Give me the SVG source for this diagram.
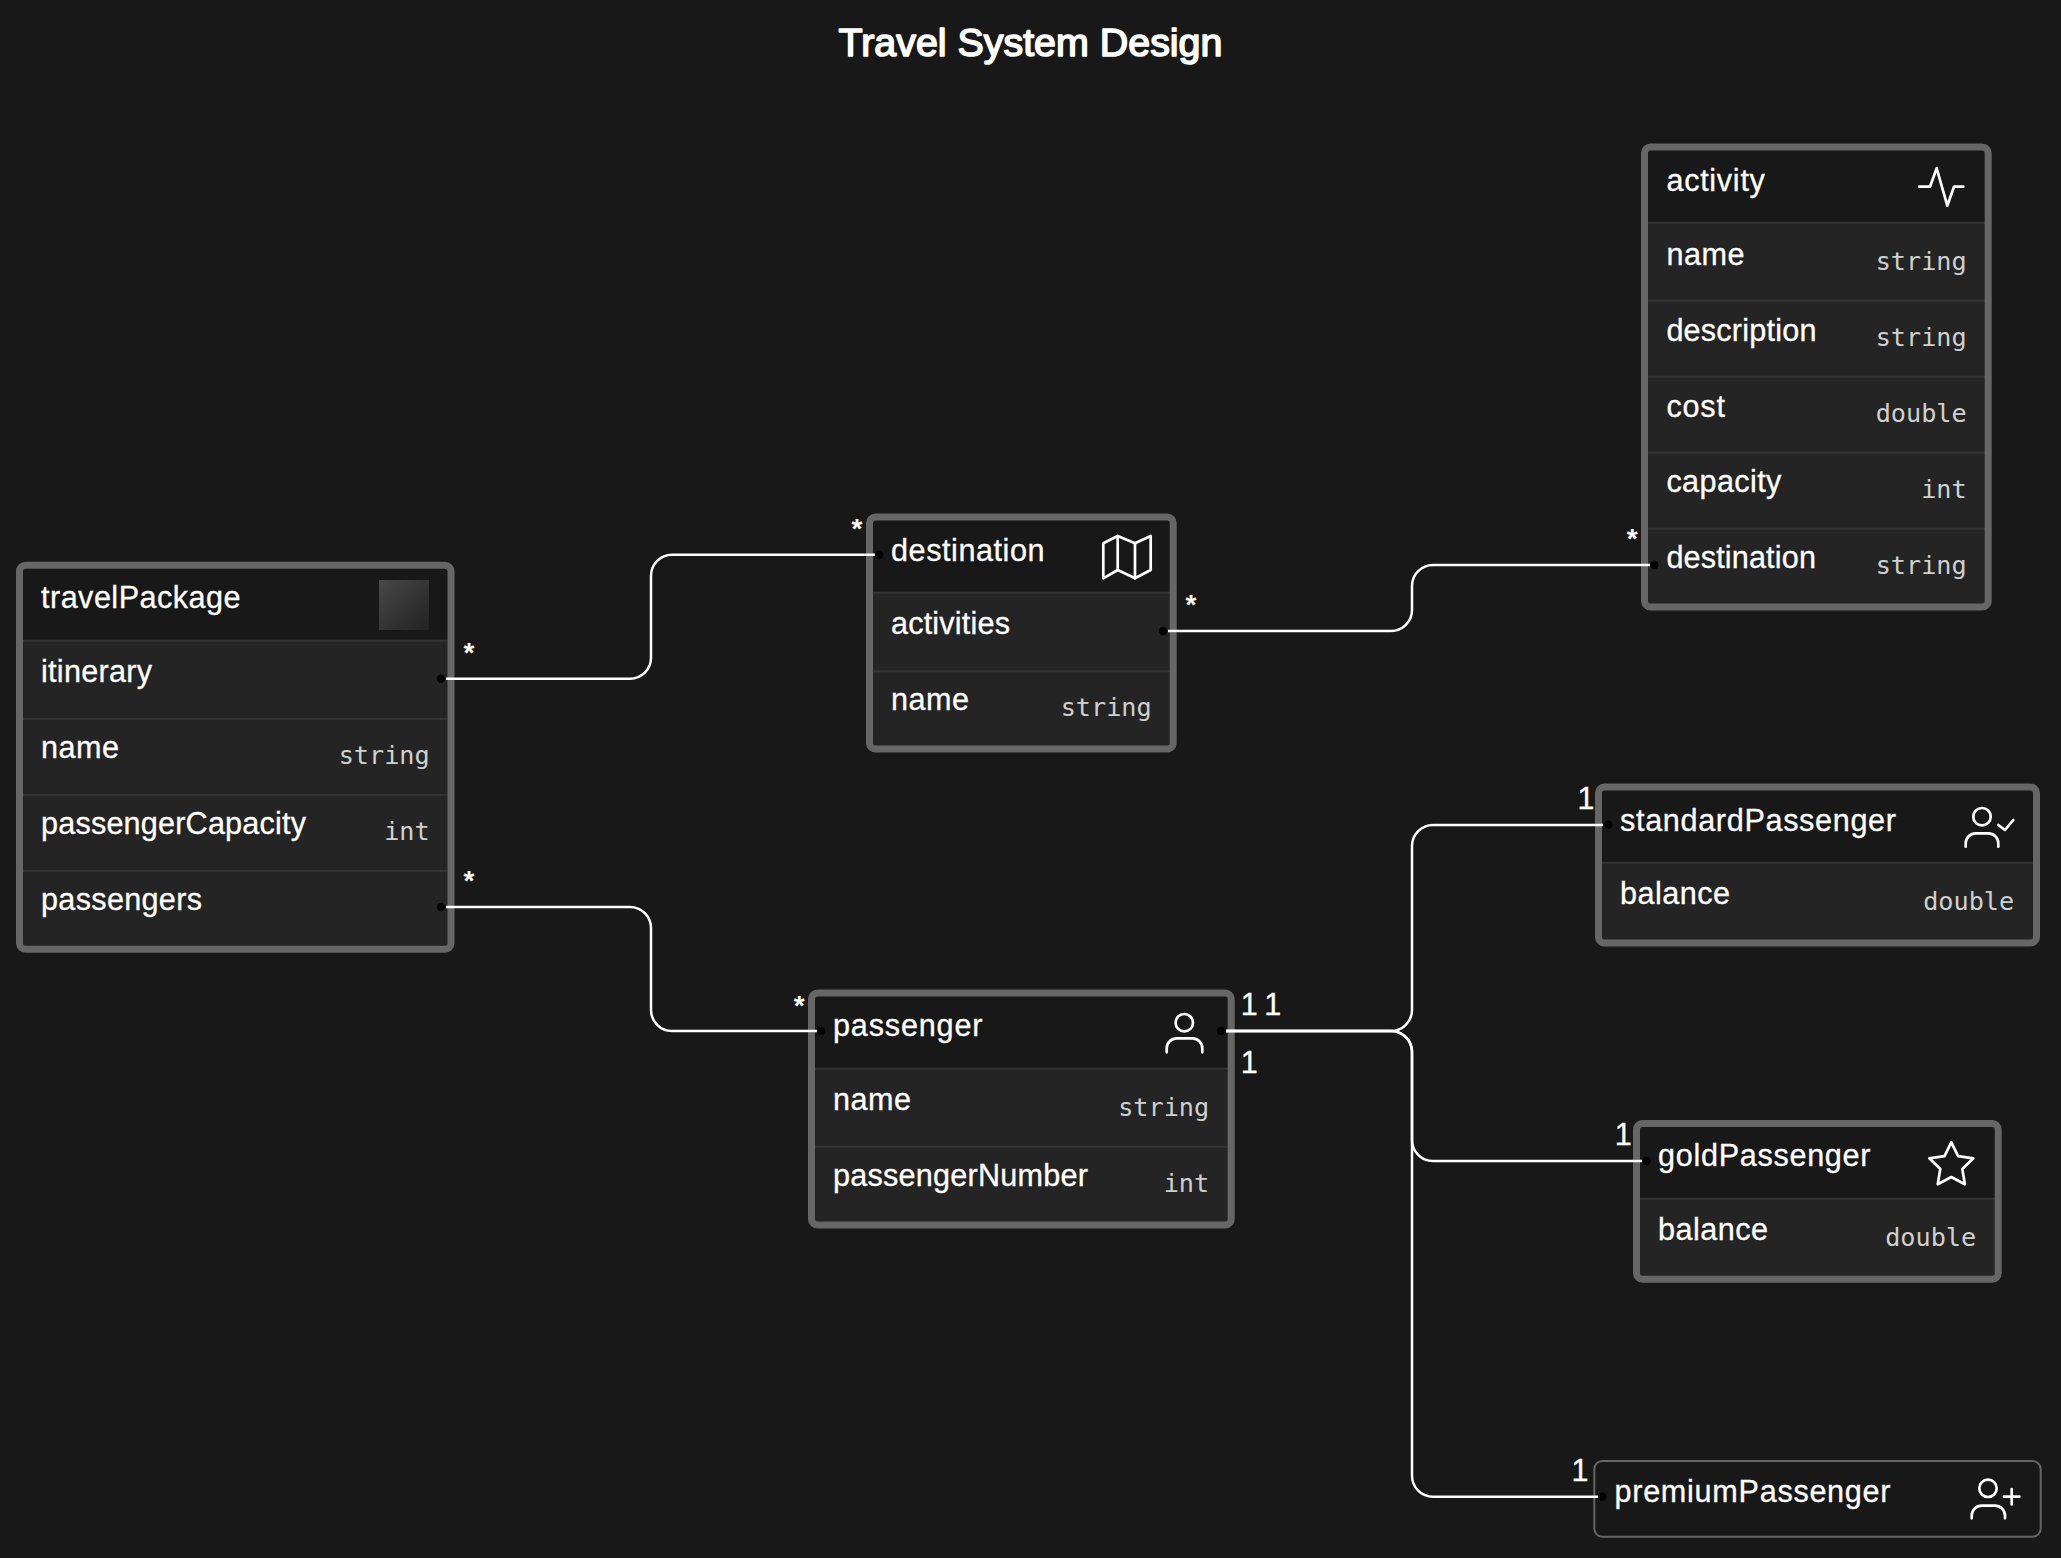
<svg xmlns="http://www.w3.org/2000/svg" width="2061" height="1558" viewBox="0 0 2061 1558">
<style>
.lb{font-family:"Liberation Sans",Arial,sans-serif;font-size:30.6px;fill:#fff;stroke:#fff;stroke-width:.3}
.ty{font-family:"DejaVu Sans Mono",monospace;font-size:25.2px;fill:#d0d0d0;text-anchor:end}
.ttl{font-family:"Liberation Sans",Arial,sans-serif;font-size:39.4px;fill:#fff;stroke:#fff;stroke-width:1.6;stroke-linejoin:round;text-anchor:middle}
.st{font-family:"Liberation Sans",Arial,sans-serif;font-size:28px;font-weight:700;fill:#fff;text-anchor:middle}
.bx{fill:none;stroke:#666;stroke-width:7}
.rw{fill:#242424}
.hd{fill:#181818}
.dv{stroke:#333;stroke-width:2}
.ic{fill:none;stroke:#fff;stroke-width:2.7;stroke-linecap:round;stroke-linejoin:round}
.cn{fill:none;stroke:#fff;stroke-width:2.5}
.dot{fill:#000}
</style>
<defs>
<linearGradient id="sq" x1="0" y1="0" x2="1" y2="1"><stop offset="0" stop-color="#484848"/><stop offset="1" stop-color="#222"/></linearGradient>
</defs>
<rect width="2061" height="1558" fill="#181818"/>
<text class="ttl" x="1030.5" y="56">Travel System Design</text>

<g id="travelPackage">
<rect class="rw" x="19.5" y="565.2" width="431.5" height="384"/>
<rect class="hd" x="19.5" y="565.2" width="431.5" height="75"/>
<line class="dv" x1="23" x2="448" y1="640.7" y2="640.7"/><line class="dv" x1="23" x2="448" y1="719" y2="719"/><line class="dv" x1="23" x2="448" y1="795" y2="795"/><line class="dv" x1="23" x2="448" y1="871" y2="871"/>
<rect class="bx" x="19.5" y="565.2" width="431.5" height="384" rx="6"/>
<text class="lb" x="41" y="608.3" textLength="199.5">travelPackage</text>
<rect x="379" y="580" width="50" height="50" fill="url(#sq)"/>
<text class="lb" x="41" y="681.7" textLength="111">itinerary</text>
<text class="lb" x="41" y="758.3" textLength="78">name</text><text class="ty" x="429.7" y="764">string</text>
<text class="lb" x="41" y="834" textLength="265">passengerCapacity</text><text class="ty" x="429.7" y="839.5">int</text>
<text class="lb" x="41" y="910" textLength="161">passengers</text>
</g>

<g id="destination">
<rect class="rw" x="869.5" y="517" width="303.7" height="232"/>
<rect class="hd" x="869.5" y="517" width="303.7" height="75.7"/>
<line class="dv" x1="873" x2="1170" y1="592.7" y2="592.7"/><line class="dv" x1="873" x2="1170" y1="671.3" y2="671.3"/>
<rect class="bx" x="869.5" y="517" width="303.7" height="232" rx="6"/>
<text class="lb" x="891" y="560.7" textLength="153.5">destination</text>
<g class="ic"><path d="M1103.3 543.3L1117.7 536L1135 543.3L1150.7 536V570L1135 578.3L1117.7 570L1103.3 578.3Z"/><path d="M1117.7 536V570M1135 543.3V578.3"/></g>
<text class="lb" x="891" y="634.3" textLength="119">activities</text>
<text class="lb" x="891" y="710" textLength="78">name</text><text class="ty" x="1151.7" y="715.7">string</text>
</g>

<g id="activity">
<rect class="rw" x="1644.5" y="147" width="343.7" height="460"/>
<rect class="hd" x="1644.5" y="147" width="343.7" height="75.7"/>
<line class="dv" x1="1648" x2="1985" y1="222.7" y2="222.7"/><line class="dv" x1="1648" x2="1985" y1="300.7" y2="300.7"/><line class="dv" x1="1648" x2="1985" y1="376.7" y2="376.7"/><line class="dv" x1="1648" x2="1985" y1="452.7" y2="452.7"/><line class="dv" x1="1648" x2="1985" y1="528.7" y2="528.7"/>
<rect class="bx" x="1644.5" y="147" width="343.7" height="460" rx="6"/>
<text class="lb" x="1666.4" y="190.6" textLength="98.5">activity</text>
<polyline class="ic" points="1919.3,186.7 1930,186.7 1936.7,168.3 1947.3,205.7 1954,186.7 1963.3,186.7"/>
<text class="lb" x="1666.4" y="264.6" textLength="78">name</text><text class="ty" x="1966.7" y="270">string</text>
<text class="lb" x="1666.4" y="340.6" textLength="150">description</text><text class="ty" x="1966.7" y="346">string</text>
<text class="lb" x="1666.4" y="416.6" textLength="58.5">cost</text><text class="ty" x="1966.7" y="422">double</text>
<text class="lb" x="1666.4" y="492.3" textLength="115">capacity</text><text class="ty" x="1966.7" y="498">int</text>
<text class="lb" x="1666.4" y="568.3" textLength="149.5">destination</text><text class="ty" x="1966.7" y="574">string</text>
</g>

<g id="passenger">
<rect class="rw" x="811.5" y="993" width="419.7" height="232"/>
<rect class="hd" x="811.5" y="993" width="419.7" height="75.7"/>
<line class="dv" x1="815" x2="1228" y1="1068.7" y2="1068.7"/><line class="dv" x1="815" x2="1228" y1="1146.7" y2="1146.7"/>
<rect class="bx" x="811.5" y="993" width="419.7" height="232" rx="6"/>
<text class="lb" x="833" y="1035.7" textLength="149.5">passenger</text>
<g class="ic"><circle cx="1184.3" cy="1022.7" r="8.7"/><path d="M1166.7 1052.3V1048.3a10 10 0 0 1 10-10h15.6a10 10 0 0 1 10 10v4"/></g>
<text class="lb" x="833" y="1110" textLength="78">name</text><text class="ty" x="1209.2" y="1115.7">string</text>
<text class="lb" x="833" y="1185.5" textLength="255">passengerNumber</text><text class="ty" x="1209.2" y="1191.7">int</text>
</g>

<g id="standardPassenger">
<rect class="rw" x="1598.5" y="787" width="438" height="156"/>
<rect class="hd" x="1598.5" y="787" width="438" height="75.7"/>
<line class="dv" x1="1602" x2="2033" y1="862.7" y2="862.7"/>
<rect class="bx" x="1598.5" y="787" width="438" height="156" rx="6"/>
<text class="lb" x="1620" y="830.7" textLength="276">standardPassenger</text>
<g class="ic"><circle cx="1982" cy="816.7" r="8.7"/><path d="M1965.7 846.7V843.3a10 10 0 0 1 10-10h12.6a10 10 0 0 1 10 10v3.4"/><path d="M1998.3 825L2005 830L2013.3 820"/></g>
<text class="lb" x="1620" y="904.3" textLength="110">balance</text><text class="ty" x="2014.2" y="909.7">double</text>
</g>

<g id="goldPassenger">
<rect class="rw" x="1636.5" y="1123.4" width="361.7" height="155.8"/>
<rect class="hd" x="1636.5" y="1123.4" width="361.7" height="75.3"/>
<line class="dv" x1="1640" x2="1995" y1="1198.7" y2="1198.7"/>
<rect class="bx" x="1636.5" y="1123.4" width="361.7" height="155.8" rx="6"/>
<text class="lb" x="1658" y="1165.7" textLength="212.5">goldPassenger</text>
<polygon class="ic" points="1951.3,1142.3 1958.1,1156.1 1973.3,1158.3 1962.3,1169 1964.9,1184.2 1951.3,1177 1937.7,1184.2 1940.3,1169 1929.3,1158.3 1944.5,1156.1"/>
<text class="lb" x="1658" y="1240" textLength="110">balance</text><text class="ty" x="1976.2" y="1245.7">double</text>
</g>

<g id="premiumPassenger">
<rect x="1594.3" y="1461" width="446.4" height="75.7" rx="8" fill="#181818" stroke="#666" stroke-width="2"/>
<text class="lb" x="1614.5" y="1502.4" textLength="276">premiumPassenger</text>
<g class="ic"><circle cx="1988" cy="1488.3" r="8.7"/><path d="M1971.7 1518.3V1515.7a10 10 0 0 1 10-10h13.3a10 10 0 0 1 10 10v2.6"/><path d="M2004 1496.7H2019.4M2011.7 1489V1504.4"/></g>
</g>

<g id="connectors">
<path class="cn" d="M446 678.7H630a21 21 0 0 0 21-21V575.7a21 21 0 0 1 21-21H875"/>
<path class="cn" d="M446 907H630a21 21 0 0 1 21 21V1010a21 21 0 0 0 21 21H817"/>
<path class="cn" d="M1168 631H1391a21 21 0 0 0 21-21V586a21 21 0 0 1 21-21H1650"/>
<path class="cn" d="M1226 1031H1391a21 21 0 0 0 21-21V846a21 21 0 0 1 21-21H1603"/>
<path class="cn" d="M1226 1031H1391a21 21 0 0 1 21 21V1140a21 21 0 0 0 21 21H1642"/>
<path class="cn" d="M1226 1031H1391a21 21 0 0 1 21 21V1475.7a21 21 0 0 0 21 21H1598"/>
<circle class="dot" cx="441" cy="678.7" r="4.2"/><circle class="dot" cx="441" cy="907" r="4.2"/>
<circle class="dot" cx="879" cy="554.7" r="4.2"/><circle class="dot" cx="1163" cy="631" r="4.2"/>
<circle class="dot" cx="1654.3" cy="565" r="4.2"/><circle class="dot" cx="821" cy="1031" r="4.2"/>
<circle class="dot" cx="1221" cy="1031" r="4.2"/><circle class="dot" cx="1608.3" cy="824.5" r="4.2"/>
<circle class="dot" cx="1646.7" cy="1161" r="4.2"/><circle class="dot" cx="1602.3" cy="1496.7" r="4.2"/>
<text class="st" x="469" y="662">*</text><text class="st" x="469" y="890">*</text>
<text class="st" x="857" y="538">*</text><text class="st" x="1191" y="614">*</text>
<text class="st" x="1632.3" y="548">*</text><text class="st" x="799.3" y="1014.7">*</text>
<text class="lb" x="1249.3" y="1015" text-anchor="middle">1</text>
<text class="lb" x="1272.7" y="1015" text-anchor="middle">1</text>
<text class="lb" x="1249.3" y="1073" text-anchor="middle">1</text>
<text class="lb" x="1586" y="809.3" text-anchor="middle">1</text>
<text class="lb" x="1623.3" y="1145" text-anchor="middle">1</text>
<text class="lb" x="1580" y="1480.7" text-anchor="middle">1</text>
</g>
</svg>
